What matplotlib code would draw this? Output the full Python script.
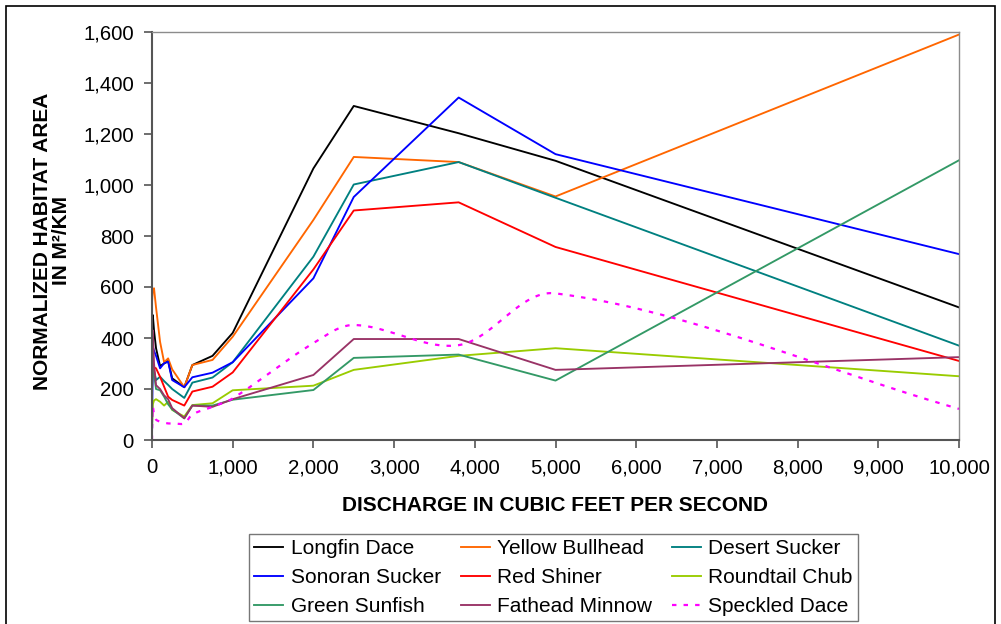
import numpy as np
import matplotlib
matplotlib.use("Agg")
import matplotlib.pyplot as plt
from matplotlib.ticker import FuncFormatter, MultipleLocator
from matplotlib.patches import Rectangle

plt.rcParams['font.family'] = ['Liberation Sans', 'DejaVu Sans']

# Discharge (cfs) at which habitat area was modelled
discharge = [0, 10, 25, 50, 100, 150, 200, 250, 400, 500, 750, 1000,
             2000, 2500, 3800, 5000, 10000]

longfin_dace    = [400, 490, 430, 360, 290, 300, 310, 242, 207, 294, 330, 420,
                   1065, 1310, 1203, 1095, 520]
yellow_bullhead = [540, 590, 595, 520, 385, 305, 320, 277, 207, 294, 314, 405,
                   863, 1110, 1090, 955, 1590]
desert_sucker   = [200, 280, 270, 235, 248, 231, 216, 200, 165, 225, 245, 305,
                   719, 1002, 1090, 950, 370]
sonoran_sucker  = [0, 366, 350, 330, 281, 301, 307, 235, 207, 246, 264, 305,
                   634, 953, 1343, 1121, 729]
red_shiner      = [250, 275, 285, 281, 248, 209, 170, 157, 135, 190, 209, 265,
                   669, 900, 932, 757, 310]
roundtail_chub  = [40, 140, 155, 160, 150, 135, 150, 118, 92, 137, 144, 195,
                   213, 275, 330, 360, 250]
green_sunfish   = [200, 290, 260, 200, 195, 170, 140, 120, 85, 135, 135, 158,
                   196, 322, 335, 233, 1097]
fathead_minnow  = [150, 430, 300, 215, 200, 175, 160, 125, 85, 135, 130, 160,
                   255, 396, 396, 275, 325]
speckled_dace   = [0, 130, 100, 80, 72, 68, 65, 65, 65, 100, 130, 163,
                   380, 451, 372, 575, 122]

species = ["Longfin Dace", "Yellow Bullhead", "Desert Sucker",
           "Sonoran Sucker", "Red Shiner", "Roundtail Chub",
           "Green Sunfish", "Fathead Minnow", "Speckled Dace"]
series = [longfin_dace, yellow_bullhead, desert_sucker, sonoran_sucker,
          red_shiner, roundtail_chub, green_sunfish, fathead_minnow,
          speckled_dace]
colors = ["#000000", "#FF6600", "#008080", "#0000FF", "#FF0000",
          "#99CC00", "#339966", "#993366", "#FF00FF"]
smooth = [False] * 8 + [True]

XMAX, YMAX = 10000, 1600
FS = 15

fig = plt.figure(figsize=(10.01, 6.24), dpi=100)
ax = fig.add_axes([152 / 1001, 1 - 440 / 624, 807 / 1001, 408 / 624])
ax.set_xlim(0, XMAX)
ax.set_ylim(0, YMAX)

# axes size in pixels, used to smooth curves in screen space
W_PX, H_PX = 807.0, 408.0


def bezier_smooth(xs, ys, n=40):
    """Bezier smoothing in screen space; control arms scale with segment length."""
    px = np.asarray(xs, float) * W_PX / XMAX
    py = np.asarray(ys, float) * H_PX / YMAX
    pts = np.column_stack([px, py])
    m = len(pts)
    out = [pts[0]]
    for i in range(m - 1):
        p0 = pts[i - 1] if i > 0 else pts[i]
        p1 = pts[i]
        p2 = pts[i + 1]
        p3 = pts[i + 2] if i + 2 < m else pts[i + 1]
        l01 = np.hypot(*(p1 - p0))
        l12 = np.hypot(*(p2 - p1))
        l23 = np.hypot(*(p3 - p2))
        a = l12 / (l01 + l12) if (l01 + l12) > 0 else 0
        b = l12 / (l12 + l23) if (l12 + l23) > 0 else 0
        c1 = p1 + (p2 - p0) * a / 3.0
        c2 = p2 - (p3 - p1) * b / 3.0
        t = np.linspace(0, 1, n)[1:, None]
        seg = ((1 - t) ** 3) * p1 + 3 * ((1 - t) ** 2) * t * c1 \
            + 3 * (1 - t) * t ** 2 * c2 + t ** 3 * p2
        out.extend(seg)
    out = np.array(out)
    return out[:, 0] * XMAX / W_PX, out[:, 1] * YMAX / H_PX


handles = []
for name, vals, col, sm in zip(species, series, colors, smooth):
    if sm:
        xs, ys = bezier_smooth(discharge, vals)
        h, = ax.plot(xs, ys, color=col, lw=1.6, linestyle=(0, (2, 3.2)),
                     label=name)
    else:
        h, = ax.plot(discharge, vals, color=col, lw=1.35, label=name)
    handles.append(h)

# ticks and spines
ax.xaxis.set_major_locator(MultipleLocator(1000))
ax.yaxis.set_major_locator(MultipleLocator(200))
fmt = FuncFormatter(lambda v, p: f"{v:,.0f}")
ax.xaxis.set_major_formatter(fmt)
ax.yaxis.set_major_formatter(fmt)
ax.tick_params(axis='both', direction='out', length=6, width=1.2,
               color='#555555', labelsize=14.7, labelcolor='black')
ax.tick_params(axis='x', pad=7)
ax.tick_params(axis='y', pad=7)
for side in ('left', 'bottom'):
    ax.spines[side].set_color('#555555')
    ax.spines[side].set_linewidth(1.5)
for side in ('top', 'right'):
    ax.spines[side].set_color('#8c8c8c')
    ax.spines[side].set_linewidth(1.0)

ax.set_xlabel("DISCHARGE IN CUBIC FEET PER SECOND", fontsize=FS,
              fontweight='bold')
ax.xaxis.set_label_coords(0.5, -0.137)
ax.set_ylabel("NORMALIZED HABITAT AREA\nIN M²/KM", fontsize=FS,
              fontweight='bold', linespacing=1.0)
ax.yaxis.set_label_coords(-0.1, 0.488)

# legend laid out row by row
order = [0, 3, 6, 1, 4, 7, 2, 5, 8]
leg = fig.legend([handles[i] for i in order], [species[i] for i in order],
                 ncol=3, loc='lower left',
                 bbox_to_anchor=(249 / 1001, 1 - 621 / 624,
                                 609 / 1001, 88 / 624),
                 mode='expand', fontsize=FS, frameon=True, fancybox=False,
                 edgecolor='#555555', handlelength=1.4, handletextpad=0.35,
                 columnspacing=0.8, labelspacing=0.47, borderpad=0.25,
                 borderaxespad=0)
leg.get_frame().set_linewidth(1.0)

# outer chart border
fig.patches.append(Rectangle((6 / 1001, -0.05), 989 / 1001, 1.05 - 6 / 624,
                             transform=fig.transFigure, fill=False,
                             edgecolor='black', linewidth=1.2))

fig.savefig("out.png", dpi=100)
